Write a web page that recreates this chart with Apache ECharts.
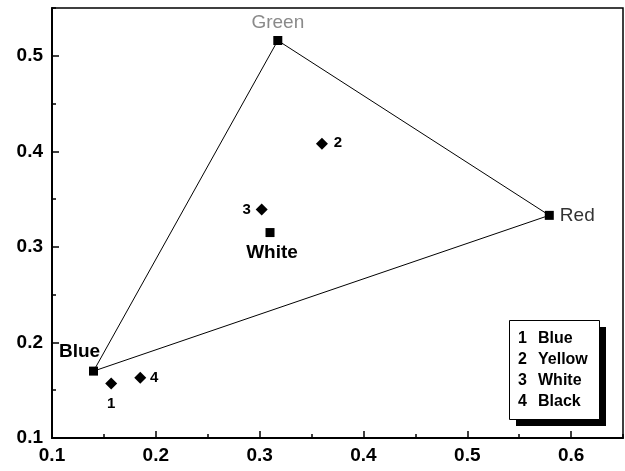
<!DOCTYPE html>
<html>
<head>
<meta charset="utf-8">
<script src="https://cdn.jsdelivr.net/npm/echarts@6/dist/echarts.min.js"></script>
<style>
html,body{margin:0;padding:0;background:#fff;}
#chart{width:625px;height:471px;}
</style>
</head>
<body>
<div id="chart"></div>
<script>
// ---- data ----
const primaryNames = ['Blue', 'Green', 'Red', 'White'];
const primaryX = [0.140, 0.3175, 0.579, 0.310];
const primaryY = [0.170, 0.516, 0.333, 0.315];
const triangleOrder = ['Blue', 'Green', 'Red', 'Blue'];

const sampleIds = ['1', '2', '3', '4'];
const sampleNames = ['Blue', 'Yellow', 'White', 'Black'];
const sampleX = [0.157, 0.360, 0.302, 0.185];
const sampleY = [0.157, 0.408, 0.339, 0.163];

const xRange = [0.1, 0.65];
const yRange = [0.1, 0.55];

// ---- styles ----
const FONT = 'Liberation Sans, Arial, sans-serif';
const primaryLabelStyle = {
  Blue:  {offset: [-14, -19], color: '#000', fontWeight: 'bold', fontSize: 19},
  Green: {offset: [0, -18], color: '#8a8a8a', fontWeight: 'normal', fontSize: 19},
  Red:   {offset: [28, 0], color: '#333', fontWeight: 'normal', fontSize: 19},
  White: {offset: [2, 20], color: '#000', fontWeight: 'bold', fontSize: 19}
};
const sampleLabelOffset = {'1': [0, 20], '2': [16, -1], '3': [-15, 0], '4': [14, 0]};

const chart = echarts.init(document.getElementById('chart'), null, {renderer: 'canvas'});

const primaryData = primaryNames.map((n, i) => {
  const s = primaryLabelStyle[n];
  return {
    name: n,
    value: [primaryX[i], primaryY[i]],
    label: {
      show: true, position: 'inside', align: 'center', verticalAlign: 'middle',
      formatter: n, offset: s.offset, color: s.color, fontWeight: s.fontWeight,
      fontSize: s.fontSize, fontFamily: FONT, opacity: 1
    }
  };
});
const triangleData = triangleOrder.map(n => {
  const i = primaryNames.indexOf(n);
  return [primaryX[i], primaryY[i]];
});
const sampleData = sampleIds.map((id, i) => ({
  name: id,
  value: [sampleX[i], sampleY[i]],
  label: {
    show: true, position: 'inside', align: 'center', verticalAlign: 'middle',
    formatter: id, offset: sampleLabelOffset[id], color: '#000', fontWeight: 'bold',
    fontSize: 15, fontFamily: FONT, opacity: 1
  }
}));

const majorLabel = {
  showMaxLabel: false, fontSize: 19, fontWeight: 'bold', color: '#000',
  fontFamily: FONT, formatter: v => v.toFixed(1)
};

// legend box
const boxLeft = 509, boxTop = 320, boxW = 90, boxH = 99, shadow = 7;
const legendGraphics = [
  {type: 'rect', left: boxLeft + shadow, top: boxTop + shadow, shape: {width: boxW, height: boxH}, style: {fill: '#000'}, z: 100},
  {type: 'rect', left: boxLeft, top: boxTop, shape: {width: boxW, height: boxH}, style: {fill: '#fff', stroke: '#000', lineWidth: 1}, z: 101}
];
sampleIds.forEach((id, i) => {
  const cy = boxTop + 19 + i * 20.7;
  legendGraphics.push({type: 'text', x: boxLeft + 9, y: cy, z: 102,
    style: {text: id, font: 'bold 16px ' + FONT, fill: '#000', textVerticalAlign: 'middle', verticalAlign: 'middle'}});
  legendGraphics.push({type: 'text', x: boxLeft + 29, y: cy, z: 102,
    style: {text: sampleNames[i], font: 'bold 16px ' + FONT, fill: '#000', textVerticalAlign: 'middle', verticalAlign: 'middle'}});
});

chart.setOption({
  animation: false,
  backgroundColor: '#fff',
  grid: {left: 52, right: 2, top: 8, bottom: 33, show: true, borderColor: '#000', borderWidth: 1.5, backgroundColor: 'transparent'},
  xAxis: [
    {type: 'value', min: xRange[0], max: xRange[1], interval: 0.1, position: 'bottom',
     axisLine: {onZero: false, lineStyle: {color: '#000', width: 2}},
     axisTick: {inside: true, length: 7, lineStyle: {color: '#000', width: 1.5}},
     axisLabel: Object.assign({margin: 8}, majorLabel),
     splitLine: {show: false}},
    {type: 'value', min: xRange[0], max: xRange[1], interval: 0.05, position: 'bottom',
     axisLine: {show: false}, axisTick: {inside: true, length: 4, lineStyle: {color: '#000', width: 1.5}},
     axisLabel: {show: false}, splitLine: {show: false}}
  ],
  yAxis: [
    {type: 'value', min: yRange[0], max: yRange[1], interval: 0.1, position: 'left',
     axisLine: {onZero: false, lineStyle: {color: '#000', width: 2}},
     axisTick: {inside: true, length: 7, lineStyle: {color: '#000', width: 1.5}},
     axisLabel: Object.assign({margin: 9}, majorLabel),
     splitLine: {show: false}},
    {type: 'value', min: yRange[0], max: yRange[1], interval: 0.05, position: 'left',
     axisLine: {show: false}, axisTick: {inside: true, length: 4, lineStyle: {color: '#000', width: 1.5}},
     axisLabel: {show: false}, splitLine: {show: false}}
  ],
  series: [
    {type: 'line', data: triangleData, symbol: 'none', xAxisIndex: 0, yAxisIndex: 0,
     lineStyle: {color: '#000', width: 1}, silent: true, z: 2},
    {type: 'scatter', data: primaryData, symbol: 'rect', symbolSize: 9, xAxisIndex: 0, yAxisIndex: 0,
     itemStyle: {color: '#000', opacity: 1}, emphasis: {disabled: true}, z: 3},
    {type: 'scatter', data: sampleData, symbol: 'diamond', symbolSize: 12, xAxisIndex: 0, yAxisIndex: 0,
     itemStyle: {color: '#000', opacity: 1}, emphasis: {disabled: true}, z: 3}
  ],
  graphic: legendGraphics
});
</script>
</body>
</html>
